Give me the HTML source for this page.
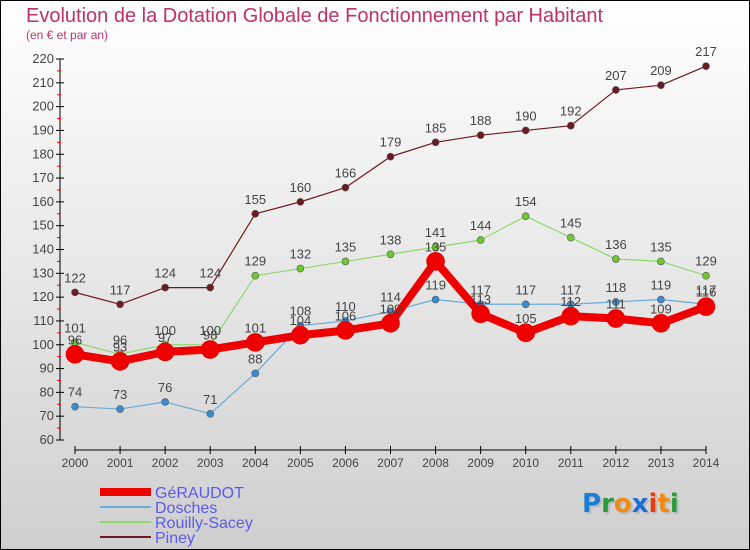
<!DOCTYPE html>
<html><head><meta charset="utf-8"><style>
html,body{margin:0;padding:0;}
body{width:750px;height:550px;overflow:hidden;font-family:"Liberation Sans",sans-serif;}
#wrap{position:absolute;left:0;top:0;width:748px;height:548px;border:1px solid #000;background:linear-gradient(#ffffff,#cfcfcf);}
</style></head><body>
<div id="wrap">
<svg id="chart" width="750" height="550" style="position:absolute;left:-1px;top:-1px" font-family="Liberation Sans, sans-serif">
<text x="26" y="22" font-size="20" fill="#c0306a">Evolution de la Dotation Globale de Fonctionnement par Habitant</text>
<text x="26" y="39" font-size="12" fill="#c0306a">(en € et par an)</text>
<g id="axes"></g><g id="series"></g><g id="legend"></g>
<g font-size="26" font-family="DejaVu Sans, sans-serif" font-weight="bold">
<text x="584" y="514" fill="#bbb">Proxiti</text>
<text x="582" y="512"><tspan fill="#1a7fd4">P</tspan><tspan fill="#2a9a3a">r</tspan><tspan fill="#f08a10">o</tspan><tspan fill="#1a6fd4">x</tspan><tspan fill="#e83a10">i</tspan><tspan fill="#f08a10">t</tspan><tspan fill="#2a9a3a">i</tspan></text>
</g>
</svg></div>
<script>
const years=["2000","2001","2002","2003","2004","2005","2006","2007","2008","2009","2010","2011","2012","2013","2014"];
const geraudot=[96,93,97,98,101,104,106,109,135,113,105,112,111,109,116];
const dosches=[74,73,76,71,88,108,110,114,119,117,117,117,118,119,117];
const rouilly=[101,96,100,100,129,132,135,138,141,144,154,145,136,135,129];
const piney=[122,117,124,124,155,160,166,179,185,188,190,192,207,209,217];
const yTicks=[60,70,80,90,100,110,120,130,140,150,160,170,180,190,200,210,220];
const NS="http://www.w3.org/2000/svg";
const x=i=>75+i*(706-75)/(years.length-1);
const y=v=>440-(v-60)*(440-59)/160;
function mk(tag,attrs,parent){const e=document.createElementNS(NS,tag);for(const k in attrs)e.setAttribute(k,attrs[k]);parent.appendChild(e);return e;}
const ax=document.getElementById('axes');
const yl=mk('line',{x1:60,y1:y(220),x2:60,y2:y(60),stroke:'#000'},ax);


yTicks.forEach(t=>{
 mk('line',{x1:56,x2:64,y1:y(t),y2:y(t),stroke:'#000'},ax);
 if(t<220) mk('line',{x1:57,x2:61,y1:y(t+5),y2:y(t+5),stroke:'#e00'},ax);
 const tx=mk('text',{x:54,y:y(t)+4,'text-anchor':'end','font-size':13,fill:'#444'},ax);
 tx.textContent=t;
 
 
});
const xl=mk('line',{x1:x(0),y1:450,x2:x(14),y2:450,stroke:'#000'},ax);


years.forEach((yr,i)=>{
 mk('line',{x1:x(i),x2:x(i),y1:446,y2:454,stroke:'#000'},ax);
 const tx=mk('text',{x:x(i),y:467,'text-anchor':'middle','font-size':12,fill:'#444'},ax);
 tx.textContent=yr;
 
 
});
const sg=document.getElementById('series');
const defs=[
 {n:'piney',d:piney,c:'#6b1a22',w:1.2,r:3.5},
 {n:'rouilly-sacey',d:rouilly,c:'#8fd870',w:1.2,r:3.5,f:'#70c830'},
 {n:'dosches',d:dosches,c:'#6aaad8',w:1.2,r:3.5,f:'#3a8ad0'},
 {n:'geraudot',d:geraudot,c:'#ee0000',w:8,r:9}
];
defs.forEach(s=>{
 const g=mk('g',{},sg);
 
 
 const p=mk('polyline',{points:s.d.map((v,i)=>x(i)+','+y(v)).join(' '),fill:'none',stroke:s.c,'stroke-width':s.w,'stroke-linejoin':'round'},g);
 
 
 s.d.forEach((v,i)=>{
  const c=mk('circle',{cx:x(i),cy:y(v),r:s.r,fill:s.f||s.c,stroke:s.w>2?'#d00':'#555','stroke-width':0.6},g);
  
  
  const t=mk('text',{x:x(i),y:y(v)-10,'text-anchor':'middle','font-size':13,fill:'#444'},g);
  t.textContent=v;
  
  
 });
});
const lg=document.getElementById('legend');
const leg=[['GéRAUDOT','#ee0000',8],['Dosches','#6aaad8',2],['Rouilly-Sacey','#8fd870',2],['Piney','#6b1a22',2]];
leg.forEach((l,i)=>{
 const yy=492+i*15;
 const g=mk('g',{},lg);
 
 
 mk('line',{x1:100,x2:151,y1:yy,y2:yy,stroke:l[1],'stroke-width':l[2]},g);
 const t=mk('text',{x:155,y:yy+6,'font-size':16,fill:'#5a5af0'},g);
 t.textContent=l[0];
});
</script>
</body></html>
